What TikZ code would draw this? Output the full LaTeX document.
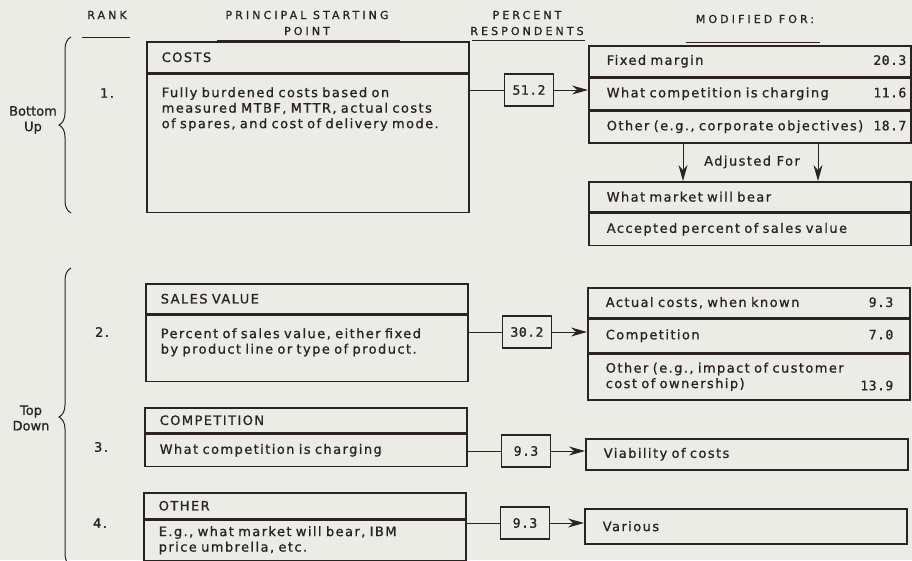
\documentclass[tikz,border=0pt]{standalone}
\usepackage{fontspec}
\setmainfont[LetterSpace=11,FakeBold=1]{DejaVu Sans}
\newfontfamily\headfont[LetterSpace=28,FakeBold=1]{DejaVu Sans}
\newfontfamily\sidefont[FakeBold=1]{DejaVu Sans}
\newfontfamily\figfont[LetterSpace=4,FakeBold=1]{DejaVu Sans Mono}
\usetikzlibrary{arrows.meta,decorations.pathreplacing}
\definecolor{ink}{HTML}{2A2321}
\definecolor{paper}{HTML}{ECECE7}

\begin{document}
\begin{tikzpicture}[x=1pt,y=-1pt,>={Stealth[length=16pt,width=9pt]},
	font=\fontsize{13}{15.5}\selectfont,color=ink]
	\tikzstyle{head}=[font=\headfont\fontsize{11}{16}\selectfont,align=center,inner sep=0pt]
	\tikzstyle{rule}=[line width=0.9pt]
	\tikzstyle{cell}=[rectangle,draw,line width=1.5pt,anchor=north west,inner xsep=15pt,text width=292pt,align=left,minimum height=31pt]
	\tikzstyle{mod}=[cell,inner xsep=18pt,text width=286pt]
	\tikzstyle{pct}=[rectangle,draw,line width=1.1pt,minimum width=49pt,minimum height=32pt,font=\figfont\fontsize{13}{15}\selectfont]
	\tikzstyle{num}=[font=\figfont\fontsize{13}{15}\selectfont,inner sep=0pt]
	\tikzstyle{link}=[line width=1pt]
	\tikzstyle{group}=[decorate,decoration={brace,amplitude=12pt},line width=1pt]
	\tikzstyle{side}=[font=\sidefont\fontsize{13}{15.5}\selectfont,align=center]

	\useasboundingbox (0,0) rectangle (912,560);
	\fill [paper] (0,0) rectangle (912,560);
	\clip (0,0) rectangle (912,560);

	% column heads
	\node [head] (rankhd) at (107,15) {RANK};
	\node [head] (starthd) at (307,23) {PRINCIPAL STARTING\\POINT};
	\node [head] (pcthd) at (527,23) {PERCENT\\RESPONDENTS};
	\node [head] (modhd) at (755,19) {MODIFIED FOR:};
	\draw [rule] (82,37) -- (130,37);
	\draw [rule] (217,40) -- (400,40);
	\draw [rule] (472,40) -- (585,40);
	\draw [rule] (686,42) -- (820,42);

	% bottom up
	\draw [group] (71,213) -- (71,37);
	\node [side] (bottomup) at (33,120) {Bottom\\Up};
	\node (rank1) at (107,93) {1.};

	\node [cell] (costhead) at (146,41) {COSTS};
	\node [cell,minimum height=138pt] (costbody) at (costhead.south west)
		{\parbox[c][112pt][t]{292pt}{Fully burdened costs based on\\measured MTBF, MTTR, actual costs\\of spares, and cost of delivery mode.}};
	\node [pct] (p1) at (529,90) {51.2};

	\node [mod] (margin) at (588,45) {Fixed margin};
	\node [mod] (charge) at (margin.south west) {What competition is charging};
	\node [mod,minimum height=32pt] (corp) at (charge.south west) {Other (e.g., corporate objectives)};
	\node [num,anchor=base east] (n11) at ([xshift=-5pt]margin.base east) {20.3};
	\node [num,anchor=base east] (n12) at ([xshift=-5pt]charge.base east) {11.6};
	\node [num,anchor=base east] (n13) at ([xshift=-5pt]corp.base east) {18.7};

	\draw [link] (costbody.east |- p1) -- (p1);
	\draw [link,->] (p1) -- (p1 -| charge.west);

	\node [mod,minimum height=30pt] (bear) at (588,181) {What market will bear};
	\node [mod,minimum height=32pt] (accept) at (bear.south west) {Accepted percent of sales value};
	\draw [link,->] ([xshift=95pt]corp.south west) -- ([xshift=95pt]bear.north west);
	\draw [link,->] ([xshift=230pt]corp.south west) -- ([xshift=230pt]bear.north west);
	\node (adj) at (752,162) {Adjusted For};

	% top down
	\draw [group] (71,566) -- (71,268);
	\node [side] (topdown) at (31,418) {Top\\Down};

	\node (rank2) at (102,332) {2.};
	\node [cell,minimum height=30pt] (salehead) at (145,283) {SALES VALUE};
	\node [cell,minimum height=66pt] (salebody) at (salehead.south west)
		{\parbox[c][40pt][t]{292pt}{Percent of sales value, either fixed\\by product line or type of product.}};
	\node [pct] (p2) at (527,332) {30.2};

	\node [mod,minimum height=30pt] (actual) at (587,287) {Actual costs, when known};
	\node [mod,minimum height=33pt] (compet) at (actual.south west) {Competition};
	\node [mod,minimum height=46pt] (impact) at (compet.south west) {Other (e.g., impact of customer\\cost of ownership)};
	\node [num,anchor=base east] (n21) at ([xshift=-17pt]actual.base east) {9.3};
	\node [num,anchor=base east] (n22) at ([xshift=-17pt]compet.base east) {7.0};
	\node [num,anchor=east] (n23) at ([xshift=-17pt,yshift=15pt]impact.south east) {13.9};

	\draw [link] (salebody.east |- p2) -- (p2);
	\draw [link,->] (p2) -- (p2 -| compet.west);

	\node (rank3) at (101,447) {3.};
	\node [cell,minimum height=25pt] (comphead) at (144,407) {COMPETITION};
	\node [cell,minimum height=32pt] (compbody) at (comphead.south west) {What competition is charging};
	\node [pct] (p3) at (526,451) {9.3};
	\node [mod] (viable) at (585,438) {Viability of costs};
	\draw [link] (compbody.east |- p3) -- (p3);
	\draw [link,->] (p3) -- (p3 -| viable.west);

	\node (rank4) at (100,523) {4.};
	\node [cell,minimum height=26pt] (othhead) at (143,492) {OTHER};
	\node [cell,minimum height=40pt] (othbody) at (othhead.south west) {E.g., what market will bear, IBM\\price umbrella, etc.};
	\node [pct] (p4) at (525,523) {9.3};
	\node [mod,minimum height=35pt] (various) at (584,508) {Various};
	\draw [link] (othbody.east |- p4) -- (p4);
	\draw [link,->] (p4) -- (p4 -| various.west);
\end{tikzpicture}
\end{document}
